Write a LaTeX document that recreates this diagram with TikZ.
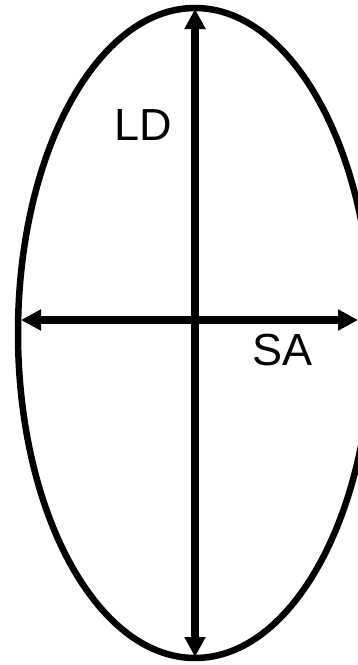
\documentclass[tikz,border=0pt]{standalone}
\usepackage{fontspec}
\setmainfont{Liberation Sans}
\usetikzlibrary{arrows.meta}
\tikzset{
  axisline/.style={line width=7.5pt, -{Triangle[length=20pt,width=20pt]}},
  twoway/.style={line width=7.5pt, {Triangle[length=20pt,width=20pt]}-{Triangle[length=20pt,width=20pt]}},
  outline/.style={line width=6.5pt},
  lbl/.style={font=\fontsize{45}{45}\selectfont, inner sep=0pt}
}
\begin{document}
\begin{tikzpicture}[x=1pt,y=-1pt]
\useasboundingbox (0,0) rectangle (358,665);
\begin{scope}
\clip (0,0) rectangle (358,665);
\draw[outline] (195,333) ellipse [x radius=177, y radius=325];
\coordinate (top) at (195,9);
\coordinate (bottom) at (195,657);
\coordinate (left) at (21,320);
\coordinate (right) at (358,320);
\draw[twoway] (top) -- (bottom);
\draw[twoway] (left) -- (right);
\node[lbl] (LD) at (143.5,125.5) {LD};
\node[lbl] (SA) at (282.5,350) {SA};
\end{scope}
\end{tikzpicture}
\end{document}
